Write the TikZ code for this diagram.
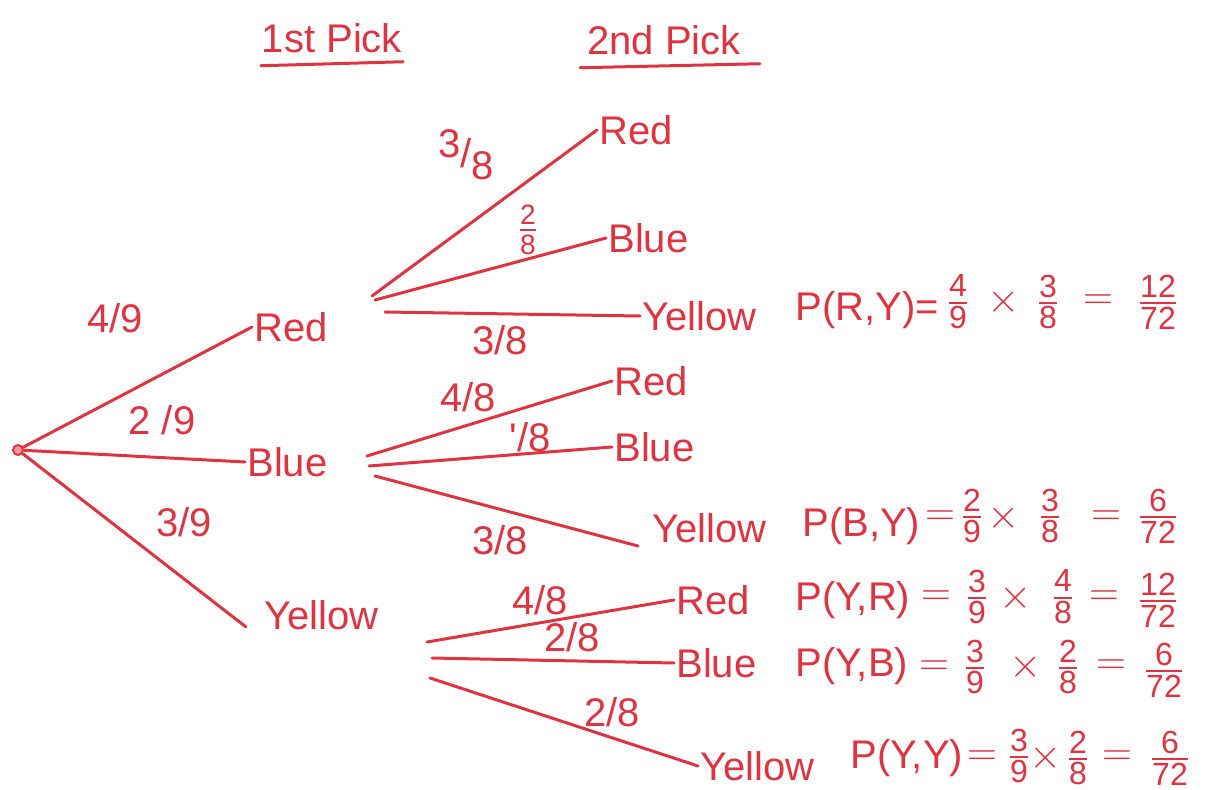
\documentclass[tikz,border=0pt]{standalone}
\usepackage{amsmath}
\usepackage{fontspec}
\setmainfont{Liberation Sans}
\definecolor{pen}{RGB}{222,52,66}
\newcommand{\fr}[2]{$\genfrac{}{}{1.2pt}{}{\text{\fontsize{16}{16}\selectfont #1}}{\text{\fontsize{16}{16}\selectfont #2}}$}
\newcommand{\sfr}[2]{$\frac{\text{#1}}{\text{#2}}$}
\newcommand{\dfr}[2]{\raisebox{5pt}{#1}/\raisebox{-6pt}{#2}}
\begin{document}
\begin{tikzpicture}[x=0.5pt,y=-0.5pt,
  every node/.style={text=pen, font=\fontsize{20}{22}\selectfont},
  word/.style={anchor=west, inner sep=1pt},
  lbl/.style={inner sep=1pt},
  pterm/.style={anchor=west, inner sep=1pt},
  op/.style={inner sep=0pt},
  branch/.style={draw=pen, line width=1.5pt, line cap=round},
  rootdot/.style={circle, draw=pen, fill=pen!50, line width=1pt, minimum size=5pt, inner sep=0pt}]
\useasboundingbox (0,0) rectangle (1224,790);

% headers
\node (h1) at (332,38) {1st Pick};
\node (h2) at (664,40) {2nd Pick};
\draw[branch] ([xshift=3pt,yshift=-3pt]h1.south west) -- ([xshift=-3pt,yshift=-1pt]h1.south east);
\draw[branch] ([yshift=-3pt]h2.south west) -- ([xshift=6pt,yshift=-1pt]h2.south east);

% root and first level
\node[rootdot] (root) at (18,450) {};
\node[word] (R1) at (252,327) {Red};
\node[word] (B1) at (245,462) {Blue};
\node[word] (Y1) at (262,615) {Yellow};
\draw[branch] (root) -- (R1.west);
\draw[branch] (root) -- (B1.west);
\draw[branch] (root) -- ([xshift=-8pt,yshift=-6pt]Y1.west);
\node[lbl] (l49) at (115,318) {4/9};
\node[lbl] (l29) at (162,420) {2 /9};
\node[lbl] (l39) at (184,522) {3/9};

% second level: after Red
\coordinate (r1) at (372,296);
\coordinate (r2) at (375,300);
\coordinate (r3) at (385,312);
\node[word] (RR) at (597,130) {Red};
\node[word] (RB) at (606,238) {Blue};
\node[word] (RY) at (640,316) {Yellow};
\draw[branch] (r1) -- (RR.west);
\draw[branch] (r2) -- (RB.west);
\draw[branch] (r3) -- (RY.west);
\node[lbl] (lRR) at (466,155) {\dfr{3}{8}};
\node[lbl] (lRB) at (528,230) {\sfr{2}{8}};
\node[lbl] (lRY) at (500,340) {3/8};
% P(R,Y)
\node[pterm] (aP) at (793,310) {P(R,Y)=};
\node[op] (aF1) at (958,302) {\fr{4}{9}};
\node[op] (aX) at (1004,302) {$\times$};
\node[op] (aF2) at (1048,302) {\fr{3}{8}};
\node[op] (aE) at (1098,302) {$=$};
\node[op] (aF3) at (1158,302) {\fr{12}{72}};

% second level: after Blue
\coordinate (b1) at (367,456);
\coordinate (b2) at (369,466);
\coordinate (b3) at (375,476);
\node[word] (BR) at (612,381) {Red};
\node[word] (BB) at (612,447) {Blue};
\node[word] (BY) at (650,528) {Yellow};
\draw[branch] (b1) -- (BR.west);
\draw[branch] (b2) -- (BB.west);
\draw[branch] (b3) -- ([xshift=-6pt,yshift=-9pt]BY.west);
\node[lbl] (lBR) at (468,397) {4/8};
\node[lbl] (lBB) at (530,437) {\textquotesingle/8};
\node[lbl] (lBY) at (500,540) {3/8};
% P(B,Y)
\node[pterm] (bP) at (800,526) {P(B,Y)};
\node[op] (bE1) at (940,518) {$=$};
\node[op] (bF1) at (972,516) {\fr{2}{9}};
\node[op] (bX) at (1004,518) {$\times$};
\node[op] (bF2) at (1050,516) {\fr{3}{8}};
\node[op] (bE2) at (1106,518) {$=$};
\node[op] (bF3) at (1158,516) {\fr{6}{72}};

% second level: after Yellow
\coordinate (y1) at (427,642);
\coordinate (y2) at (432,658);
\coordinate (y3) at (430,678);
\node[word] (YR) at (674,600) {Red};
\node[word] (YB) at (674,663) {Blue};
\node[word] (YY) at (698,766) {Yellow};
\draw[branch] (y1) -- (YR.west);
\draw[branch] (y2) -- (YB.west);
\draw[branch] (y3) -- (YY.west);
\node[lbl] (lYR) at (540,600) {4/8};
\node[lbl] (lYB) at (572,637) {2/8};
\node[lbl] (lYY) at (612,712) {2/8};
% P(Y,R)
\node[pterm] (cP) at (793,600) {P(Y,R)};
\node[op] (cE1) at (936,598) {$=$};
\node[op] (cF1) at (977,597) {\fr{3}{9}};
\node[op] (cX) at (1016,598) {$\times$};
\node[op] (cF2) at (1063,597) {\fr{4}{8}};
\node[op] (cE2) at (1104,598) {$=$};
\node[op] (cF3) at (1158,600) {\fr{12}{72}};
% P(Y,B)
\node[pterm] (dP) at (793,666) {P(Y,B)};
\node[op] (dE1) at (934,668) {$=$};
\node[op] (dF1) at (975,667) {\fr{3}{9}};
\node[op] (dX) at (1026,667) {$\times$};
\node[op] (dF2) at (1068,667) {\fr{2}{8}};
\node[op] (dE2) at (1111,667) {$=$};
\node[op] (dF3) at (1164,670) {\fr{6}{72}};
% P(Y,Y)
\node[pterm] (eP) at (848,758) {P(Y,Y)};
\node[op] (eE1) at (982,758) {$=$};
\node[op] (eF1) at (1019,756) {\fr{3}{9}};
\node[op] (eX) at (1046,758) {$\times$};
\node[op] (eF2) at (1078,758) {\fr{2}{8}};
\node[op] (eE2) at (1117,758) {$=$};
\node[op] (eF3) at (1170,758) {\fr{6}{72}};
\end{tikzpicture}
\end{document}
